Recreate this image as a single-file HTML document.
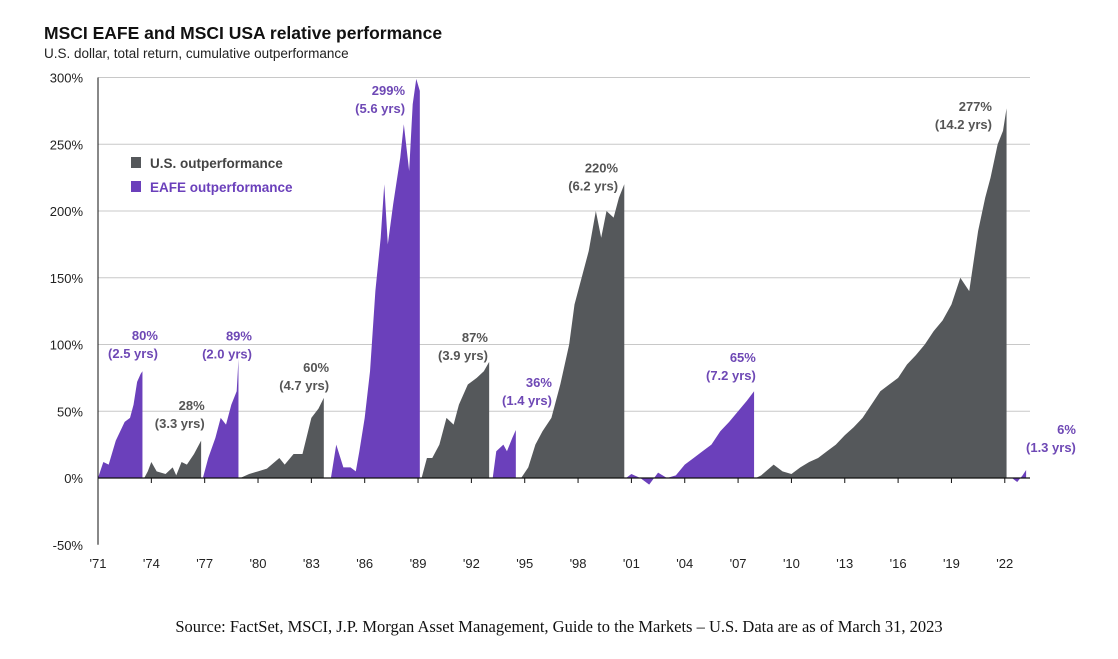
<!DOCTYPE html>
<html><head><meta charset="utf-8"><style>
body{margin:0;background:#fff;width:1118px;height:654px;overflow:hidden;font-family:"Liberation Sans",Arial,sans-serif}
</style></head><body>
<svg id="chart" width="1118" height="654" xmlns="http://www.w3.org/2000/svg" font-family="Liberation Sans, Arial, sans-serif">
<text x="44" y="39" font-size="17.5" font-weight="bold" fill="#111">MSCI EAFE and MSCI USA relative performance</text>
<text x="44" y="58" font-size="13.5" fill="#222">U.S. dollar, total return, cumulative outperformance</text>
<g id="grid"></g><g id="areas"></g><g id="axes"></g><g id="labels"></g>
<g>
<rect x="131" y="157" width="10" height="11" fill="#55585b"/>
<text x="150" y="168" font-size="13.5" fill="#444" font-weight="bold">U.S. outperformance</text>
<rect x="131" y="181" width="10" height="11" fill="#6b40bb"/>
<text x="150" y="192" font-size="13.5" fill="#6b40bb" font-weight="bold">EAFE  outperformance</text>
</g>
<text x="559" y="632" text-anchor="middle" font-family="Liberation Serif, serif" font-size="16.5" fill="#111">Source: FactSet, MSCI, J.P. Morgan Asset Management, Guide to the Markets – U.S. Data are as of March 31, 2023</text>
</svg>
<script>
const yTicks=[-50,0,50,100,150,200,250,300];
const xTickYears=[1971,1974,1977,1980,1983,1986,1989,1992,1995,1998,2001,2004,2007,2010,2013,2016,2019,2022];
const episodeTypes=["eafe","us","eafe","us","eafe","us","eafe","us","eafe","us","eafe"];
const episodeYears=[
[1971.0,1971.3,1971.6,1972.0,1972.5,1972.8,1973.0,1973.2,1973.4,1973.5],
[1973.6,1973.8,1974.0,1974.3,1974.8,1975.2,1975.4,1975.7,1976.0,1976.4,1976.8],
[1976.9,1977.2,1977.6,1977.9,1978.2,1978.5,1978.8,1978.9],
[1979.0,1979.5,1980.0,1980.5,1981.2,1981.5,1982.0,1982.5,1983.0,1983.4,1983.7],
[1983.8,1984.1,1984.4,1984.8,1985.2,1985.5,1985.7,1986.0,1986.3,1986.6,1986.9,1987.1,1987.3,1987.6,1988.0,1988.2,1988.5,1988.7,1988.9,1989.1],
[1989.2,1989.5,1989.8,1990.2,1990.6,1991.0,1991.3,1991.8,1992.3,1992.7,1993.0],
[1993.2,1993.4,1993.8,1994.0,1994.3,1994.5],
[1994.8,1995.2,1995.6,1996.0,1996.5,1997.0,1997.5,1997.8,1998.2,1998.6,1999.0,1999.3,1999.6,2000.0,2000.3,2000.6],
[2000.7,2001.0,2001.5,2002.0,2002.5,2003.0,2003.5,2004.0,2004.5,2005.0,2005.5,2006.0,2006.5,2007.0,2007.5,2007.9],
[2008.0,2008.3,2009.0,2009.5,2010.0,2010.5,2011.0,2011.5,2012.0,2012.5,2013.0,2013.5,2014.0,2014.5,2015.0,2015.5,2016.0,2016.5,2017.0,2017.5,2018.0,2018.5,2019.0,2019.5,2020.0,2020.5,2020.9,2021.2,2021.6,2021.9,2022.1],
[2022.2,2022.4,2022.7,2023.0,2023.2]];
const episodeValues=[
[0,12,10,28,42,45,55,72,78,80],
[0,5,12,5,3,8,2,12,10,18,28],
[0,15,30,45,40,55,65,89],
[0,3,5,7,15,10,18,18,45,52,60],
[0,0,25,8,8,5,20,45,80,140,180,220,175,205,240,265,230,280,299,290],
[0,15,15,25,45,40,55,70,75,80,87],
[0,20,25,20,30,36],
[0,8,25,35,45,70,100,130,150,170,200,180,200,195,210,220],
[0,3,0,-5,4,0,2,10,15,20,25,35,42,50,58,65],
[0,2,10,5,3,8,12,15,20,25,32,38,45,55,65,70,75,85,92,100,110,118,130,150,140,185,210,225,250,260,277],
[0,0,-3,2,6]];
const peakLabels=["80%","28%","89%","60%","299%","87%","36%","220%","65%","277%","6%"];
const durLabels=["(2.5 yrs)","(3.3 yrs)","(2.0 yrs)","(4.7 yrs)","(5.6 yrs)","(3.9 yrs)","(1.4 yrs)","(6.2 yrs)","(7.2 yrs)","(14.2 yrs)","(1.3 yrs)"];
const labelAnchorYears=[1974.37,1977.0,1979.66,1984.0,1988.27,1992.93,1996.53,2000.25,2008.0,2021.28,2026.0];
const labelAnchorVals=[103.4,51,103,79.4,287,102,68,229,87,275,33];

const NS="http://www.w3.org/2000/svg";
const X0=98,X1=1030;
function xs(y){return X0+(y-1971)*17.78;}
function ys(v){return 478-v*1.335;}
function mk(t,a,p){const e=document.createElementNS(NS,t);for(const k in a)e.setAttribute(k,a[k]);p.appendChild(e);return e;}
const grid=document.getElementById('grid'),axes=document.getElementById('axes'),areas=document.getElementById('areas'),labels=document.getElementById('labels');
yTicks.forEach(v=>{
 if(v!==0&&v!==-50){const l=mk('line',{x1:X0,x2:X1,y1:ys(v),y2:ys(v),stroke:'#c8c8c8','stroke-width':1},grid);
 
 }
 const t=mk('text',{x:83,y:ys(v)+5,'text-anchor':'end','font-size':13,fill:'#222'},axes);
 t.textContent=v+'%';
 
 
});
episodeYears.forEach((yrs,i)=>{
 let pts=[[xs(yrs[0]),ys(0)]];
 yrs.forEach((y,j)=>pts.push([xs(y),ys(episodeValues[i][j])]));
 pts.push([xs(yrs[yrs.length-1]),ys(0)]);
 const p=mk('polygon',{points:pts.map(q=>q.join(',')).join(' '),fill:episodeTypes[i]==='us'?'#55585b':'#6b40bb'},areas);
 
 
});
const ax=mk('line',{x1:X0,x2:X1,y1:ys(0),y2:ys(0),stroke:'#111','stroke-width':1.3},axes);


const yax=mk('line',{x1:X0,x2:X0,y1:ys(300),y2:ys(-50),stroke:'#111','stroke-width':1},axes);


xTickYears.forEach(y=>{
 mk('line',{x1:xs(y),x2:xs(y),y1:ys(0),y2:ys(0)+5,stroke:'#111'},axes);
 const t=mk('text',{x:xs(y),y:568,'text-anchor':'middle','font-size':13,fill:'#222'},axes);
 t.textContent="'"+String(y).slice(2);
 
 
});
peakLabels.forEach((s,i)=>{
 const c=episodeTypes[i]==='us'?'#555':'#6e48b5';
 const x=xs(labelAnchorYears[i]),y=ys(labelAnchorVals[i]);
 const t1=mk('text',{x:x,y:y,'text-anchor':'end','font-size':13,'font-weight':'bold',fill:c},labels);
 t1.textContent=s;
 
 
 const t2=mk('text',{x:x,y:y+18,'text-anchor':'end','font-size':13,'font-weight':'bold',fill:c},labels);
 t2.textContent=durLabels[i];
 
 
});
</script>
</body></html>
